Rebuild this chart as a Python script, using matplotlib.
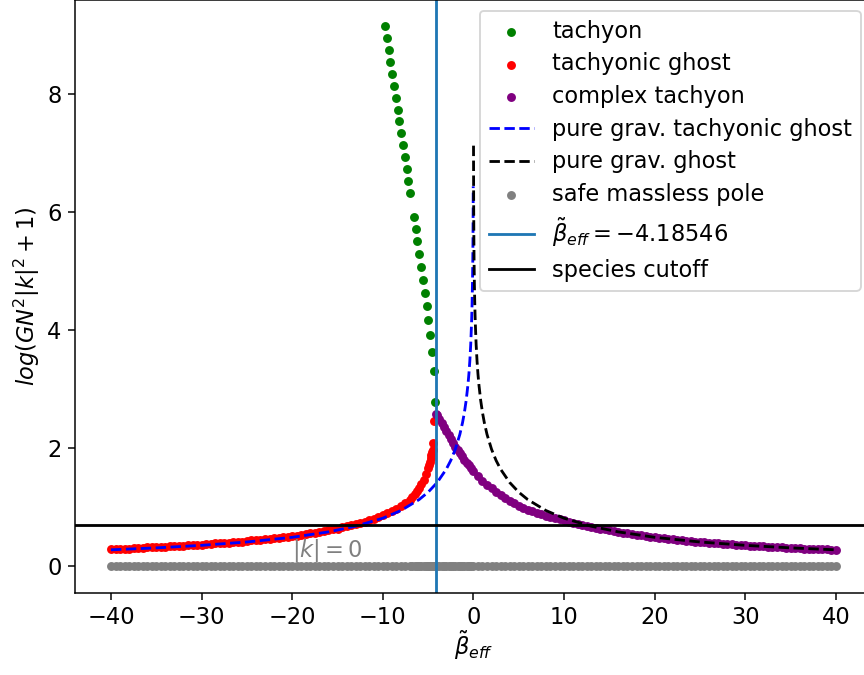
import matplotlib
matplotlib.use('Agg')
import matplotlib.pyplot as plt
import numpy as np

plt.rcParams['font.size'] = 12

beta_eff = -4.18546
cutoff = 0.693

# tachyon (green)
tach_x = [-9.80, -9.58, -9.36, -9.18, -9.00, -8.77, -8.59, -8.37, -8.19, -7.97,
          -7.78, -7.59, -7.37, -7.20, -6.98, -6.60, -6.38, -6.20, -5.98, -5.79,
          -5.61, -5.39, -5.17, -4.99, -4.80, -4.61, -4.36, -4.19]
tach_y = [9.14, 8.94, 8.74, 8.53, 8.34, 8.13, 7.93, 7.73, 7.53, 7.33,
          7.13, 6.93, 6.72, 6.52, 6.32, 5.91, 5.70, 5.50, 5.28, 5.06,
          4.85, 4.62, 4.40, 4.16, 3.91, 3.63, 3.30, 2.77]

# tachyonic ghost (red)
ghost_x = [-40, -39.5, -39, -38.5, -38, -37.5, -37, -36.5, -36, -35.5,
           -35, -34.5, -34, -33.5, -33, -32.5, -32, -31.5, -31, -30.5,
           -30, -29.5, -29, -28.5, -28, -27.5, -27, -26.5, -26, -25.5,
           -25, -24.5, -24, -23.5, -23, -22.5, -22, -21.5, -21, -20.5,
           -20, -19.5, -19, -18.5, -18, -17.5, -17, -16.5, -16, -15.5,
           -15, -14.5, -14, -13.5, -13, -12.5, -12, -11.5, -11, -10.5,
           -10, -9.5, -9, -8.5, -8, -7.5, -7, -6.75, -6.5, -6.25,
           -6, -5.75, -5.5, -5.25, -5, -4.9, -4.8, -4.72, -4.65, -4.6,
           -4.5, -4.43, -4.36]
ghost_y = [0.28, 0.28, 0.29, 0.29, 0.29, 0.30, 0.30, 0.30, 0.31, 0.31,
           0.32, 0.32, 0.32, 0.33, 0.33, 0.34, 0.34, 0.35, 0.35, 0.36,
           0.36, 0.37, 0.37, 0.38, 0.38, 0.39, 0.39, 0.40, 0.41, 0.41,
           0.42, 0.43, 0.43, 0.44, 0.45, 0.46, 0.47, 0.47, 0.48, 0.49,
           0.50, 0.51, 0.52, 0.54, 0.55, 0.56, 0.57, 0.59, 0.60, 0.62,
           0.63, 0.65, 0.67, 0.69, 0.71, 0.73, 0.75, 0.77, 0.80, 0.83,
           0.86, 0.89, 0.92, 0.96, 1.01, 1.06, 1.12, 1.16, 1.21, 1.26,
           1.32, 1.39, 1.46, 1.55, 1.65, 1.71, 1.76, 1.82, 1.88, 1.92,
           1.96, 2.08, 2.46]

# complex tachyon (purple)
cplx_x = [-4.1, -4, -3.75, -3.5, -3.25, -3, -2.75, -2.5, -2.25, -2,
          -1.75, -1.5, -1.25, -1, -0.75, -0.5, -0.25, 0,
          0.5, 1, 1.5, 2, 2.5, 3, 3.5, 4, 4.5, 5,
          5.5, 6, 6.5, 7, 7.5, 8, 8.5, 9, 9.5, 10,
          10.5, 11, 11.5, 12, 12.5, 13, 13.5, 14, 14.5, 15,
          15.5, 16, 16.5, 17, 17.5, 18, 18.5, 19, 19.5, 20,
          20.5, 21, 21.5, 22, 22.5, 23, 23.5, 24, 24.5, 25,
          25.5, 26, 26.5, 27, 27.5, 28, 28.5, 29, 29.5, 30,
          30.5, 31, 31.5, 32, 32.5, 33, 33.5, 34, 34.5, 35,
          35.5, 36, 36.5, 37, 37.5, 38, 38.5, 39, 39.5, 40]
cplx_y = [2.57, 2.55, 2.49, 2.42, 2.355, 2.29, 2.22, 2.15, 2.085, 2.02,
          1.965, 1.91, 1.855, 1.80, 1.75, 1.70, 1.65, 1.60,
          1.52, 1.44, 1.37, 1.31, 1.25, 1.20, 1.15, 1.10, 1.06, 1.02,
          0.98, 0.95, 0.92, 0.90, 0.87, 0.85, 0.83, 0.81, 0.79, 0.77,
          0.75, 0.73, 0.71, 0.69, 0.68, 0.66, 0.645, 0.63, 0.618, 0.603,
          0.588, 0.574, 0.561, 0.548, 0.536, 0.524, 0.513, 0.502, 0.492, 0.482,
          0.473, 0.464, 0.455, 0.447, 0.439, 0.431, 0.424, 0.417, 0.410, 0.403,
          0.396, 0.390, 0.384, 0.378, 0.372, 0.367, 0.361, 0.356, 0.351, 0.346,
          0.341, 0.337, 0.332, 0.328, 0.323, 0.319, 0.315, 0.311, 0.307, 0.303,
          0.300, 0.296, 0.292, 0.289, 0.286, 0.282, 0.279, 0.276, 0.273, 0.270]

# pure gravity curves
pg_tg_x = [-40, -35, -30, -25, -20, -16, -13, -10, -8, -6, -5, -4, -3, -2.5, -2,
           -1.5, -1.2, -1, -0.8, -0.6, -0.5, -0.4, -0.3, -0.2, -0.15, -0.1,
           -0.07, -0.05, -0.03, -0.02]
pg_tg_y = [0.270, 0.303, 0.346, 0.403, 0.482, 0.574, 0.670, 0.806, 0.936, 1.121,
           1.247, 1.411, 1.636, 1.785, 1.974, 2.226, 2.428, 2.595, 2.803, 3.076,
           3.250, 3.466, 3.745, 4.143, 4.427, 4.828, 5.182, 5.517, 6.024, 6.431]
pg_g_x = [0.01, 0.02, 0.03, 0.05, 0.07, 0.1, 0.15, 0.2, 0.3, 0.4, 0.5, 0.6, 0.8,
          1, 1.2, 1.5, 2, 2.5, 3, 4, 5, 6, 8, 10, 13, 16, 20, 25, 30, 35, 40]
pg_g_y = [7.120, 6.431, 6.024, 5.517, 5.182, 4.828, 4.427, 4.143, 3.745, 3.466,
          3.250, 3.076, 2.803, 2.595, 2.428, 2.226, 1.974, 1.785, 1.636, 1.411,
          1.247, 1.121, 0.936, 0.806, 0.670, 0.574, 0.482, 0.403, 0.346, 0.303,
          0.270]

# safe massless pole
safe_x = ghost_x + cplx_x
safe_y = [0.0] * len(safe_x)

fig = plt.figure(figsize=(6.4, 5), dpi=135)
ax = fig.add_axes([0.0865, 0.1219, 0.9229, 0.8788])

ax.scatter(tach_x, tach_y, s=14, color='green', label='tachyon')
ax.scatter(ghost_x, ghost_y, s=14, color='red', label='tachyonic ghost')
ax.scatter(cplx_x, cplx_y, s=14, color='purple', label='complex tachyon')
ax.plot(pg_tg_x, pg_tg_y, '--', color='blue', label='pure grav. tachyonic ghost')
ax.plot(pg_g_x, pg_g_y, '--', color='black', label='pure grav. ghost')
ax.text(-20, 0.14, r'$|k| = 0$', color='gray', fontsize=12)
ax.scatter(safe_x, safe_y, s=14, color='gray', label='safe massless pole')
ax.axvline(beta_eff, label=r'$\tilde{\beta}_{eff} = -4.18546$')
ax.axhline(cutoff, color='black', label='species cutoff')

ax.set_xlim(-44, 44)
ax.set_ylim(-0.457, 9.597)
ax.set_xlabel(r'$\tilde{\beta}_{eff}$', labelpad=0)
ax.set_ylabel(r'$log(GN^2|k|^2+1)$', labelpad=3)
ax.legend(loc='upper right', labelspacing=0.43)

fig.savefig('out.png', dpi=135)
